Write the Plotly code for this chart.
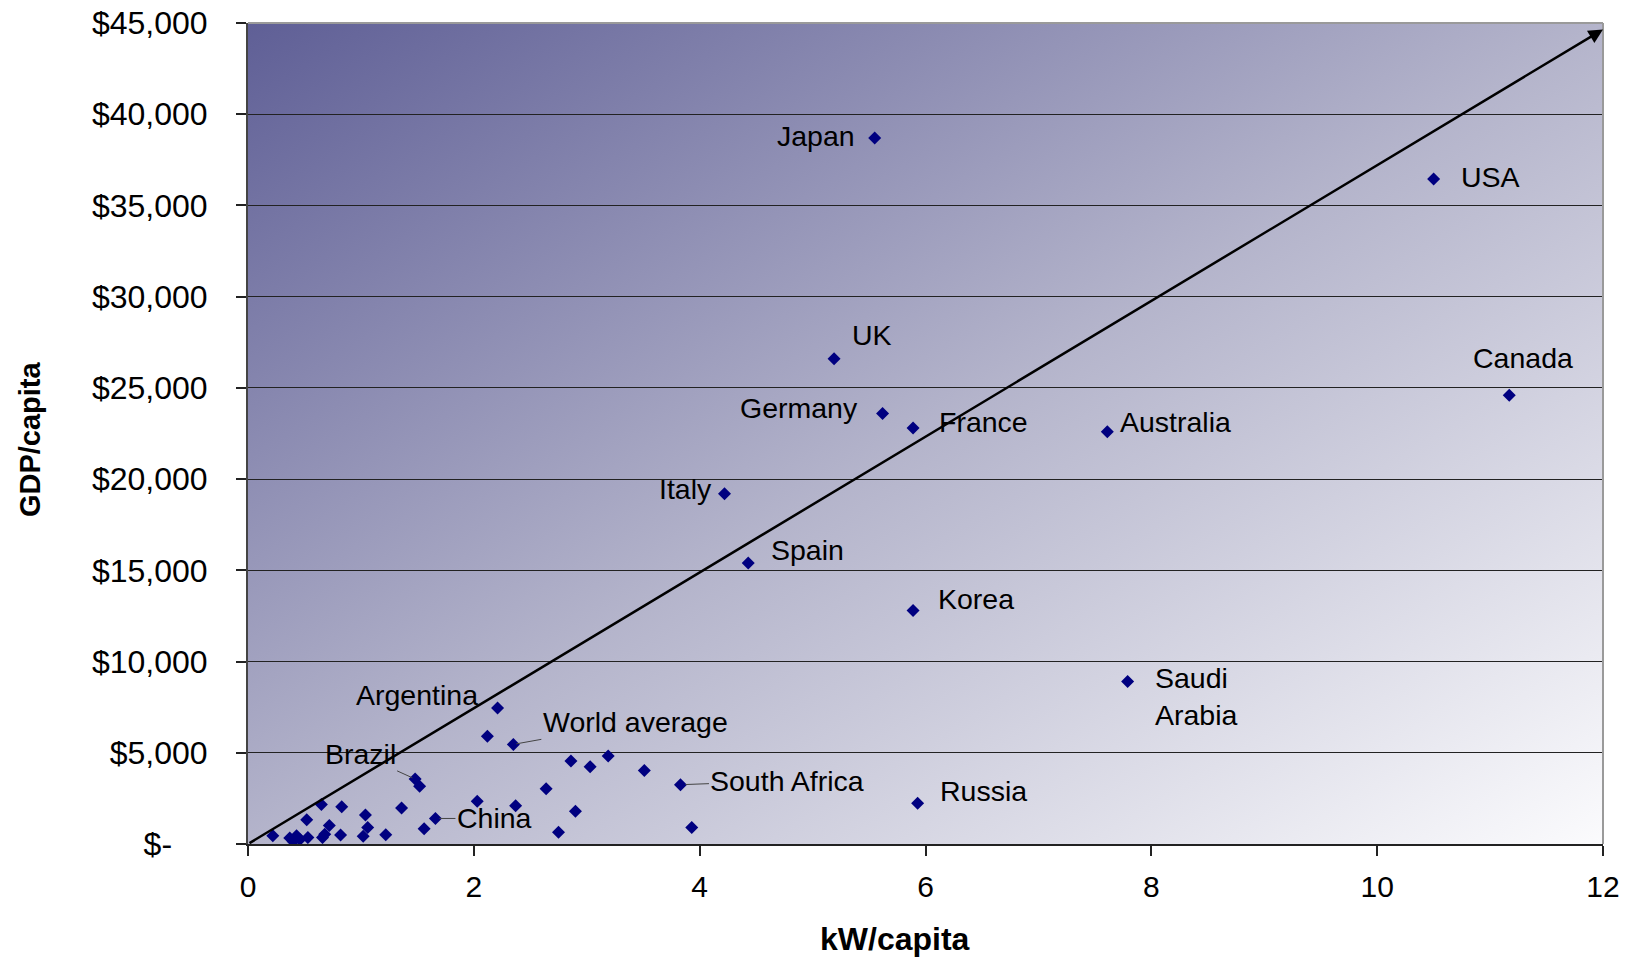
import base64
import plotly.graph_objects as go

# ---------------- data ----------------
labels = ["Japan", "USA", "UK", "Canada", "Germany", "France", "Australia", "Italy",
          "Spain", "Korea", "Saudi Arabia", "Russia", "South Africa", "Argentina",
          "World average", "Brazil", "China"]
labeled_kw = [5.55, 10.50, 5.19, 11.17, 5.62, 5.89, 7.61, 4.22,
              4.43, 5.89, 7.79, 5.93, 3.83, 2.21,
              2.35, 1.48, 1.66]
labeled_gdp = [38700, 36450, 26600, 24600, 23600, 22800, 22600, 19200,
               15400, 12800, 8900, 2240, 3250, 7450,
               5460, 3560, 1400]

other_kw = [2.12, 2.86, 3.03, 3.19, 3.51, 3.93, 1.52, 2.64, 2.03, 2.37, 2.90, 2.75,
            1.56, 1.36, 1.22, 1.06, 1.04, 1.02, 0.83, 0.82, 0.65, 0.72, 0.68, 0.66,
            0.52, 0.53, 0.43, 0.40, 0.37, 0.46, 0.22]
other_gdp = [5900, 4550, 4240, 4820, 4030, 910, 3160, 3030, 2340, 2100, 1800, 640,
             840, 1970, 510, 910, 1590, 430, 2040, 490, 2170, 1020, 530, 350,
             1330, 350, 450, 140, 330, 250, 450]

trend_kw = [0, 12]
trend_gdp = [0, 44650]

x_ticks = [0, 2, 4, 6, 8, 10, 12]
y_ticks = [0, 5000, 10000, 15000, 20000, 25000, 30000, 35000, 40000, 45000]
y_ticktext = ["$-\u00a0\u00a0\u00a0\u00a0", "$5,000", "$10,000", "$15,000", "$20,000",
              "$25,000", "$30,000", "$35,000", "$40,000", "$45,000"]

# ---------------- label placement (styles) ----------------
# name: (xanchor, xshift px, dy px downward)
plain_labels = {
    "Japan": ("right", -18, -2),
    "USA": ("left", 25, -2),
    "UK": ("left", 16, -24),
    "Canada": ("center", 14, -37),
    "Germany": ("right", -23, -5),
    "France": ("left", 24, -6),
    "Australia": ("left", 11, -10),
    "Italy": ("right", -11, -5),
    "Spain": ("left", 21, -13),
    "Korea": ("left", 23, -11),
    "Saudi Arabia": ("left", 25, 15),
    "Russia": ("left", 20, -12),
    "Argentina": ("right", -18, -13),
}
# name: (ax, ay, standoff)  -> labels with leader lines
leader_labels = {
    "South Africa": (107, -4, 5),
    "World average": (122, -22, 3),
    "Brazil": (-55, -25, 3),
    "China": (59, 0, 4),
}

FONT = "Liberation Sans, Arial, sans-serif"
NARROW = "Liberation Sans Narrow, Arial Narrow, Liberation Sans, sans-serif"
LABEL_SIZE = 28.5

fig = go.Figure()

fig.add_trace(go.Scatter(
    x=other_kw + labeled_kw, y=other_gdp + labeled_gdp, mode="markers",
    marker=dict(symbol="diamond", size=10, color="#000080", line=dict(width=0)),
    hoverinfo="x+y", showlegend=False))

annotations = []
for name, xv, yv in zip(labels, labeled_kw, labeled_gdp):
    txt = name.replace(" ", "<br>") if name == "Saudi Arabia" else name
    if name in plain_labels:
        xa, xs, dy = plain_labels[name]
        annotations.append(dict(x=xv, y=yv, xref="x", yref="y", text=txt, showarrow=False,
                                xanchor=xa, yanchor="middle", xshift=xs, yshift=-dy,
                                align="left", font=dict(family=FONT, size=LABEL_SIZE, color="black")))
    else:
        ax, ay, so = leader_labels[name]
        annotations.append(dict(x=xv, y=yv, xref="x", yref="y", text=txt, showarrow=True,
                                ax=ax, ay=ay, arrowhead=0, arrowwidth=1, arrowcolor="#444444",
                                standoff=so, font=dict(family=FONT, size=LABEL_SIZE, color="black")))

# diagonal reference arrow
annotations.append(dict(x=trend_kw[1], y=trend_gdp[1], ax=trend_kw[0], ay=trend_gdp[0],
                        xref="x", yref="y", axref="x", ayref="y", text="", showarrow=True,
                        arrowhead=2, arrowsize=1.15, arrowwidth=2.5, arrowcolor="black", standoff=0))

# axis titles
annotations.append(dict(x=-0.161, y=0.493, xref="paper", yref="paper", text="<b>GDP/capita</b>",
                        showarrow=False, textangle=-90, xanchor="center", yanchor="middle",
                        font=dict(family=NARROW, size=29, color="black")))
annotations.append(dict(x=0.4776, y=-0.1162, xref="paper", yref="paper", text="<b>kW/capita</b>",
                        showarrow=False, xanchor="center", yanchor="middle",
                        font=dict(family=FONT, size=32, color="black")))

svg = ('<svg xmlns="http://www.w3.org/2000/svg" width="200" height="200" viewBox="0 0 200 200" '
       'preserveAspectRatio="none"><defs><linearGradient id="g" x1="0" y1="0" x2="1" y2="1">'
       '<stop offset="0" stop-color="#5F5F96"/><stop offset="0.5" stop-color="#B4B4CB"/>'
       '<stop offset="1" stop-color="#FBFBFD"/>'
       '</linearGradient></defs><rect width="200" height="200" fill="url(#g)"/></svg>')
svg_uri = "data:image/svg+xml;base64," + base64.b64encode(svg.encode()).decode()

fig.update_layout(
    width=1631, height=958,
    margin=dict(l=248, r=28, t=23, b=114, pad=0),
    paper_bgcolor="white", plot_bgcolor="rgba(0,0,0,0)",
    font=dict(family=FONT, color="black"),
    annotations=annotations,
    images=[dict(source=svg_uri, xref="paper", yref="paper", x=0, y=1, sizex=1, sizey=1,
                 xanchor="left", yanchor="top", sizing="stretch", layer="below")],
    shapes=[
        dict(type="line", xref="paper", yref="paper", x0=0, x1=1, y0=1, y1=1,
             line=dict(color="#9A9A9A", width=2), layer="above"),
        dict(type="line", xref="paper", yref="paper", x0=1, x1=1, y0=0, y1=1,
             line=dict(color="#9A9A9A", width=2), layer="above"),
    ],
    xaxis=dict(range=[0, 12], tickvals=x_ticks, ticktext=[str(v) for v in x_ticks],
               showgrid=False, zeroline=False, showline=True, linecolor="#222222", linewidth=2,
               ticks="outside", ticklen=10, tickcolor="#222222", tickwidth=1.5, automargin=False,
               ticklabelstandoff=5, tickfont=dict(family=FONT, size=30, color="black")),
    yaxis=dict(range=[0, 45000], tickvals=y_ticks, ticktext=y_ticktext,
               showgrid=True, gridcolor="#222222", gridwidth=1.3, zeroline=False,
               showline=True, linecolor="#444444", linewidth=2, automargin=False,
               ticks="outside", ticklen=10, tickcolor="#222222", tickwidth=1.5,
               ticklabelstandoff=22, tickfont=dict(family=FONT, size=32, color="black")),
)

fig.write_html("out.html", config={"displayModeBar": False},
               post_script="document.body.style.margin='0';")
